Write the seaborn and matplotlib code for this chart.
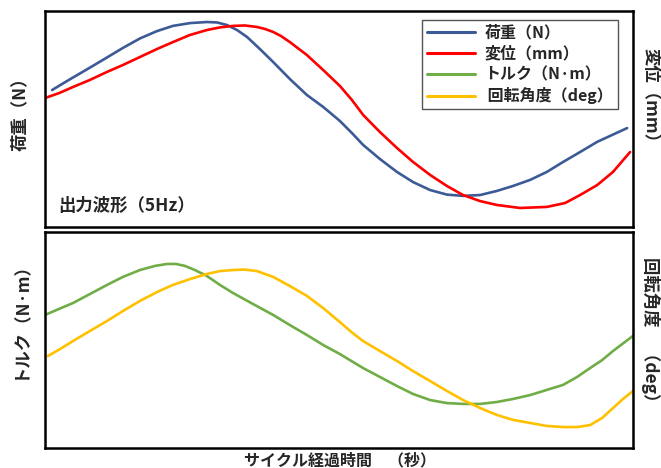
import matplotlib
matplotlib.use("Agg")
import matplotlib.pyplot as plt
import seaborn as sns

# One loading cycle at 5 Hz (0.2 s); amplitudes normalised to 0-100 per panel
t_load = [0.0024, 0.0058, 0.0095, 0.0153, 0.0211, 0.0265, 0.0323, 0.0381, 0.0435,
          0.0493, 0.0551, 0.0585, 0.0619, 0.0653, 0.0687, 0.0731, 0.0776, 0.0833,
          0.0891, 0.0946, 0.1003, 0.1044, 0.1082, 0.1139, 0.1197, 0.1252, 0.1310,
          0.1367, 0.1422, 0.1480, 0.1537, 0.1592, 0.1650, 0.1707, 0.1762, 0.1820,
          0.1878, 0.1929, 0.1980]
load_n = [63.4, 66.2, 69.2, 73.8, 78.5, 82.9, 87.3, 90.7, 93.1,
          94.4, 94.9, 94.7, 93.5, 91.2, 88.0, 82.4, 76.4, 68.5,
          61.1, 55.6, 49.1, 43.5, 38.0, 31.5, 25.5, 20.8, 17.1,
          15.0, 14.4, 14.8, 16.7, 19.0, 21.8, 25.5, 30.1, 34.7,
          39.4, 42.6, 45.8]

t_disp = [0.0000, 0.0048, 0.0095, 0.0153, 0.0211, 0.0265, 0.0323, 0.0381, 0.0435,
          0.0493, 0.0551, 0.0595, 0.0639, 0.0680, 0.0721, 0.0748, 0.0776, 0.0803,
          0.0833, 0.0891, 0.0946, 0.1003, 0.1044, 0.1082, 0.1139, 0.1197, 0.1252,
          0.1310, 0.1367, 0.1422, 0.1480, 0.1537, 0.1616, 0.1707, 0.1769, 0.1820,
          0.1878, 0.1932, 0.1990]
disp_mm = [59.7, 62.0, 64.8, 68.1, 71.8, 75.0, 78.7, 82.4, 85.6,
           88.9, 91.2, 92.4, 93.1, 93.3, 92.6, 91.7, 90.3, 88.4,
           85.6, 79.6, 72.7, 65.3, 58.8, 51.9, 44.0, 36.6, 30.1,
           24.1, 19.0, 14.8, 12.0, 10.2, 8.8, 9.3, 11.1, 14.8,
           19.4, 25.5, 34.7]

t_torque = [0.0000, 0.0048, 0.0095, 0.0153, 0.0211, 0.0265, 0.0323, 0.0374, 0.0415,
            0.0446, 0.0476, 0.0510, 0.0551, 0.0595, 0.0639, 0.0707, 0.0776, 0.0833,
            0.0891, 0.0946, 0.1003, 0.1082, 0.1139, 0.1197, 0.1252, 0.1310, 0.1367,
            0.1422, 0.1480, 0.1537, 0.1592, 0.1650, 0.1707, 0.1762, 0.1810, 0.1854,
            0.1895, 0.1932, 0.2000]
torque_nm = [61.6, 64.4, 67.1, 71.3, 75.5, 79.2, 82.4, 84.3, 85.2,
             85.2, 84.3, 82.4, 79.6, 75.5, 71.8, 66.7, 61.6, 56.9,
             52.3, 47.7, 43.5, 37.0, 32.9, 28.7, 25.0, 22.2, 20.8,
             20.4, 20.4, 21.3, 22.7, 24.5, 26.9, 29.2, 32.9, 37.0,
             40.7, 44.9, 51.9]

t_angle = [0.0010, 0.0051, 0.0095, 0.0153, 0.0211, 0.0265, 0.0323, 0.0381, 0.0435,
           0.0493, 0.0551, 0.0595, 0.0639, 0.0680, 0.0721, 0.0776, 0.0833, 0.0891,
           0.0946, 0.1003, 0.1044, 0.1082, 0.1139, 0.1197, 0.1252, 0.1310, 0.1367,
           0.1422, 0.1480, 0.1537, 0.1592, 0.1650, 0.1707, 0.1762, 0.1810, 0.1854,
           0.1895, 0.1932, 0.1966, 0.2000]
angle_deg = [42.6, 45.8, 49.5, 54.2, 58.8, 63.4, 68.1, 72.2, 75.5,
             78.2, 80.6, 81.9, 82.4, 82.6, 81.9, 79.2, 75.0, 70.4,
             64.8, 58.3, 53.5, 49.5, 44.9, 40.3, 35.6, 31.0, 26.4,
             22.2, 18.5, 15.3, 13.0, 11.6, 10.2, 9.7, 9.7, 10.6,
             13.9, 18.5, 22.7, 26.4]

series_labels = ["荷重（N）", "変位（mm）", "トルク（N·m）", " 回転角度（deg）"]
colors = ["#3C5A96", "#FF0000", "#70AD47", "#FFC000"]

sns.set_style("white")
plt.rcParams["font.family"] = ["Noto Sans CJK JP", "DejaVu Sans"]

W, H = 661, 468
fig = plt.figure(figsize=(W / 100, H / 100), dpi=100)
left, right = 45 / W, 633 / W
ax_top = fig.add_axes([left, 1 - 227 / H, right - left, 216 / H])
ax_bot = fig.add_axes([left, 1 - 448 / H, right - left, 216 / H])

lw = 1.9
sns.lineplot(x=t_load, y=load_n, ax=ax_top, color=colors[0], linewidth=lw)
sns.lineplot(x=t_disp, y=disp_mm, ax=ax_top, color=colors[1], linewidth=lw)
sns.lineplot(x=t_torque, y=torque_nm, ax=ax_bot, color=colors[2], linewidth=lw)
sns.lineplot(x=t_angle, y=angle_deg, ax=ax_bot, color=colors[3], linewidth=lw)

for ax in (ax_top, ax_bot):
    ax.set_xlim(0, 0.2)
    ax.set_ylim(0, 100)
    ax.set_xticks([])
    ax.set_yticks([])
    ax.set_xlabel("")
    ax.set_ylabel("")
    for sp in ax.spines.values():
        sp.set_visible(True)
        sp.set_color("black")
        sp.set_linewidth(1.8)

# Legend covering both panels' series
handles = [plt.Line2D([], [], color=c, linewidth=2.2) for c in colors]
leg = ax_top.legend(handles, series_labels, loc="upper right",
                    bbox_to_anchor=(0.988, 0.995), frameon=True, fancybox=False,
                    edgecolor="#555555", framealpha=1, handlelength=3.0,
                    handletextpad=0.6, labelspacing=0.3, borderpad=0.3,
                    prop={"size": 11.5, "weight": "bold"})
leg.get_frame().set_linewidth(1.0)

ax_top.text(0.022, 0.1, "出力波形（5Hz）", transform=ax_top.transAxes,
            fontsize=12.5, fontweight="bold", va="center", ha="left")

bold = dict(fontsize=12.5, fontweight="bold", va="center", ha="center")
fig.text(20 / W, 1 - 110 / H, "荷重（N）", rotation=90, **bold)
fig.text(20 / W, 1 - 316 / H, "トルク（N·m）", rotation=90, **bold)
fig.text(651 / W, 1 - 100 / H, "変位（mm）", rotation=-90, **bold)
fig.text(651 / W, 1 - 334 / H, "回転角度　（deg）", rotation=-90, **bold)
fig.text(340 / W, 1 - 460 / H, "サイクル経過時間　（秒）", fontsize=11.5,
         fontweight="bold", va="center", ha="center")

fig.savefig("out.png", dpi=100)
